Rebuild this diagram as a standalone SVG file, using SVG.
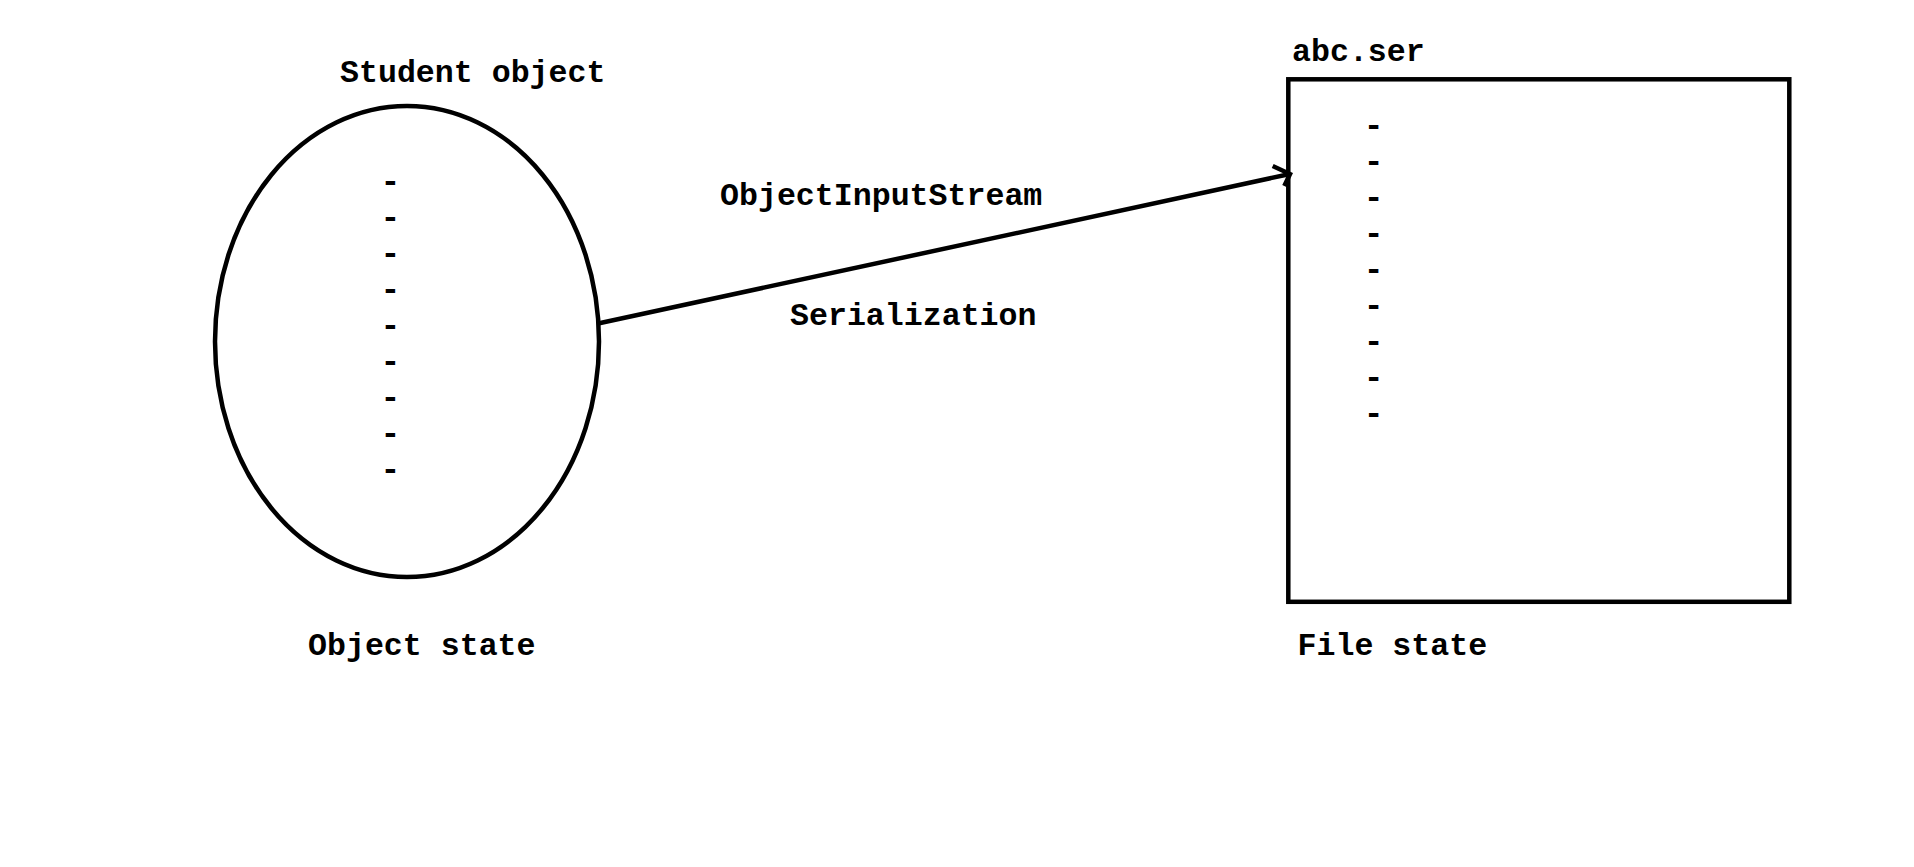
<svg xmlns="http://www.w3.org/2000/svg" width="1914" height="867" viewBox="0 0 1914 867">
<style>
.t{font-family:"Liberation Mono","Courier New",monospace;font-weight:bold;font-size:31.6px;fill:#000}
.d{font-family:"Liberation Mono","Courier New",monospace;font-weight:bold;font-size:33px;fill:#000;text-anchor:middle}
.s{fill:none;stroke:#000;stroke-width:4.5}
</style>
<rect width="1914" height="867" fill="#fff"/>
<g id="student-object">
<ellipse class="s" cx="407" cy="341.5" rx="192" ry="235.5"/>
<text class="t" x="340" y="81.7">Student object</text>
<text class="d"><tspan x="390.5" y="191.8">-</tspan><tspan x="390.5" dy="36">-</tspan><tspan x="390.5" dy="36">-</tspan><tspan x="390.5" dy="36">-</tspan><tspan x="390.5" dy="36">-</tspan><tspan x="390.5" dy="36">-</tspan><tspan x="390.5" dy="36">-</tspan><tspan x="390.5" dy="36">-</tspan><tspan x="390.5" dy="36">-</tspan></text>
<text class="t" x="308" y="655">Object state</text>
</g>
<g id="abc-ser">
<rect class="s" x="1288.3" y="79.3" width="501" height="522.5" stroke-width="5"/>
<text class="t" x="1292" y="60.7">abc.ser</text>
<text class="d"><tspan x="1373.7" y="135.8">-</tspan><tspan x="1373.7" dy="36">-</tspan><tspan x="1373.7" dy="36">-</tspan><tspan x="1373.7" dy="36">-</tspan><tspan x="1373.7" dy="36">-</tspan><tspan x="1373.7" dy="36">-</tspan><tspan x="1373.7" dy="36">-</tspan><tspan x="1373.7" dy="36">-</tspan><tspan x="1373.7" dy="36">-</tspan></text>
<text class="t" x="1297.5" y="655">File state</text>
</g>
<g id="connectors">
<line class="s" x1="598" y1="323.5" x2="1290" y2="174"/>
<polyline class="s" stroke-width="4" points="1272.7,166 1290,174 1284.3,186"/>
<text class="t" x="720" y="205">ObjectInputStream</text>
<text class="t" x="790" y="325">Serialization</text>
</g>
</svg>
